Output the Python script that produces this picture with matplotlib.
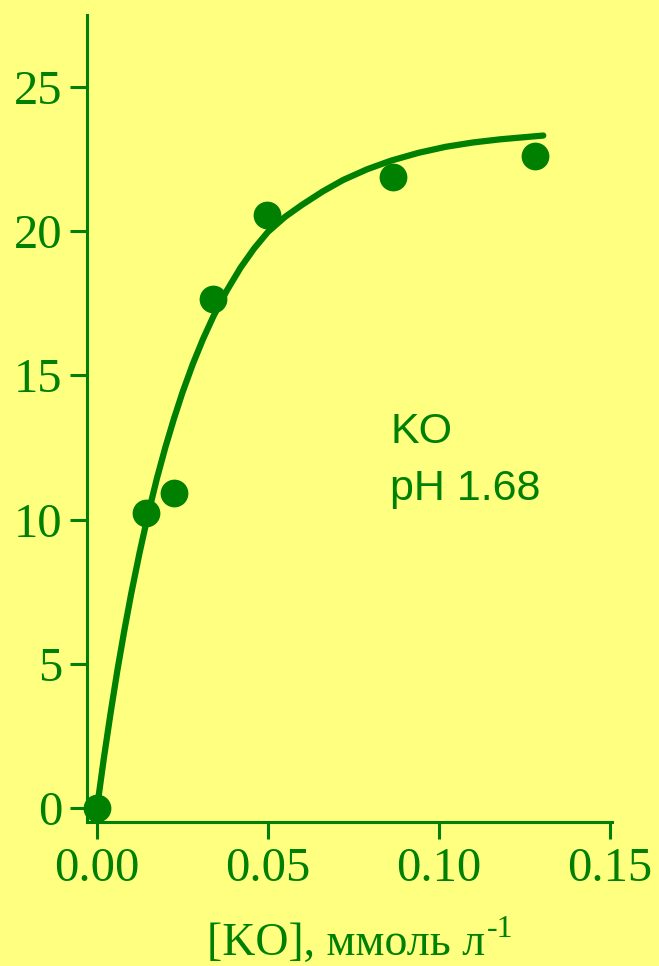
import matplotlib
matplotlib.use("Agg")
import matplotlib.pyplot as plt

# measured points
conc = [0.0, 0.0143, 0.0226, 0.0340, 0.0496, 0.0865, 0.1281]
signal = [0.0, 10.23, 10.91, 17.65, 20.56, 21.89, 22.61]

# fitted curve (smoothed by eye)
fit_x = [0.0, 0.002, 0.004, 0.006, 0.008, 0.010, 0.0125, 0.015, 0.0175,
         0.020, 0.0225, 0.025, 0.028, 0.031, 0.034, 0.038, 0.042, 0.046,
         0.050, 0.055, 0.060, 0.066, 0.072, 0.079, 0.086, 0.094, 0.102,
         0.110, 0.118, 0.1305]
fit_y = [0.0, 1.72, 3.31, 4.80, 6.16, 7.43, 8.88, 10.21, 11.42,
         12.51, 13.50, 14.41, 15.39, 16.26, 17.04, 17.95, 18.74, 19.41,
         19.98, 20.50, 20.92, 21.38, 21.78, 22.15, 22.45, 22.72, 22.93,
         23.08, 23.19, 23.32]

xticks = [0.0, 0.05, 0.10, 0.15]
xticklabels = ["0.00", "0.05", "0.10", "0.15"]
yticks = [0, 5, 10, 15, 20, 25]

GREEN = "#008000"
BG = "#ffff80"

plt.rcParams.update({
    "font.family": ["Liberation Serif", "DejaVu Serif"],
})

fig = plt.figure(figsize=(6.59, 9.66), dpi=100, facecolor=BG)
ax = fig.add_axes([87 / 659, 144 / 966, 525 / 659, 807 / 966])
ax.set_facecolor(BG)

ax.plot(fit_x, fit_y, color=GREEN, linewidth=4.5, solid_capstyle="round",
        solid_joinstyle="round", zorder=3)
ax.plot(conc, signal, "o", color=GREEN, markersize=20, markeredgewidth=0,
        zorder=4, clip_on=False)

ax.set_xlim(-0.00292, 0.1506)
ax.set_ylim(-0.485, 27.5)
ax.set_xticks(xticks)
ax.set_xticklabels(xticklabels)
ax.set_yticks(yticks)

for side in ["top", "right"]:
    ax.spines[side].set_visible(False)
for side in ["left", "bottom"]:
    ax.spines[side].set_color(GREEN)
    ax.spines[side].set_linewidth(2.2)

ax.tick_params(axis="both", direction="out", length=12, width=2.2,
               color=GREEN, labelcolor=GREEN, labelsize=35, pad=6)

# x label with a raised "-1" placed right after the main text
lab = fig.text(207 / 659, 11 / 966, "[KO], ммоль л", fontsize=33,
               color=GREEN, ha="left", va="baseline")
fig.canvas.draw()
bb = lab.get_window_extent()
fig.text((bb.x1 + 2) / 659, 29 / 966, "-1", fontsize=23, color=GREEN,
         ha="left", va="baseline")

sans = ["Liberation Sans", "DejaVu Sans"]
ax.text(0.0857, 12.66, "KO", fontsize=31, color=GREEN, family=sans,
        ha="left", va="baseline")
ax.text(0.0857, 10.68, "pH 1.68", fontsize=31, color=GREEN, family=sans,
        ha="left", va="baseline")

fig.savefig("out.png", dpi=100, facecolor=BG)
